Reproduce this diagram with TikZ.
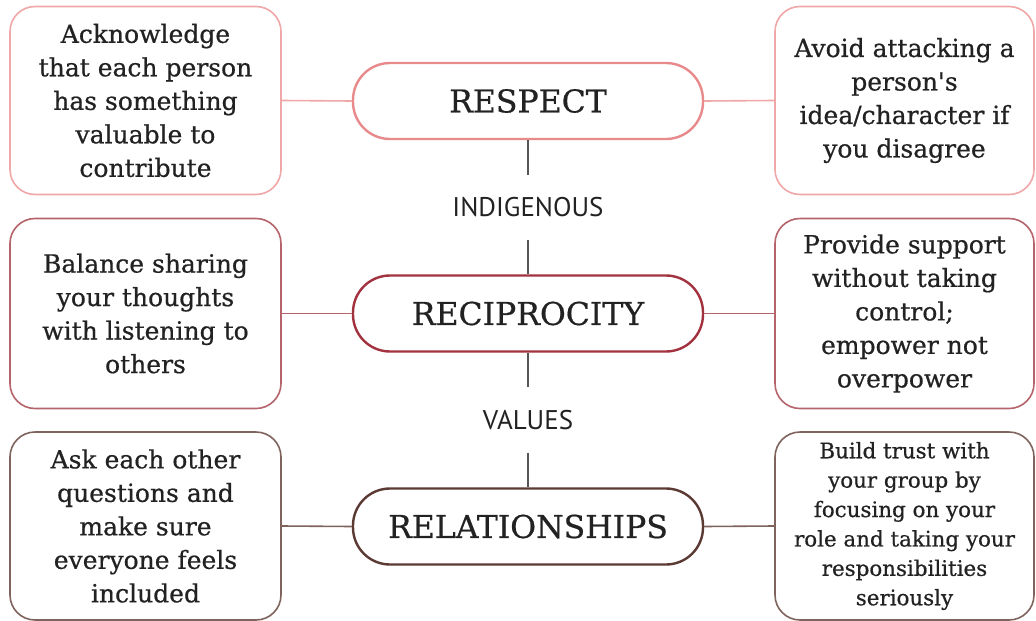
\documentclass[tikz,border=0pt]{standalone}
\usepackage{fontspec}
\setmainfont{DejaVu Serif}[FakeBold=0.6]
\newfontfamily\apfont{DejaVu Serif}[FakeBold=0.6]
\newfontfamily\labelfont{PT Sans}
\begin{document}
\begin{tikzpicture}[x=1pt,y=-1pt,
  txt/.style={text=textgray, align=center, font=\fontsize{25}{33.5}\selectfont},
  smalltxt/.style={text=textgray, align=center, font=\fontsize{21.4}{29.4}\selectfont},
  card/.style={draw, line width=1.6pt, rounded corners=25pt, minimum width=271pt, minimum height=188pt, inner sep=0pt, fill=white},
  rcard/.style={card, minimum width=259pt},
  pill/.style={draw, line width=2.4pt, rounded corners=37pt, minimum width=350pt, minimum height=76pt, inner sep=0pt, fill=white, text=textgray, font=\fontsize{31.5}{31.5}\selectfont},
  tag/.style={text=textgray, font=\labelfont\fontsize{27}{27}\selectfont, minimum height=65pt, inner sep=0pt},
  link/.style={line width=1.6pt},
  stem/.style={line width=1.6pt, draw=stemgray}
]
\definecolor{textgray}{HTML}{222222}
\definecolor{stemgray}{HTML}{555555}
\definecolor{rowA}{HTML}{E88A8C}
\definecolor{rowAlight}{HTML}{F0A7A8}
\definecolor{rowB}{HTML}{A3323F}
\definecolor{rowBlight}{HTML}{B5646C}
\definecolor{rowC}{HTML}{5B3A34}
\definecolor{rowClight}{HTML}{7F645E}

\fill[white] (0,0) rectangle (1036,621);
\useasboundingbox (0,0) rectangle (1036,621);

% central column
\node[pill, draw=rowA] (respect) at (528,101) {RESPECT};
\node[pill, draw=rowB] (recip) at (528,313.5) {RECIPROCITY};
\node[pill, draw=rowC] (relat) at (528,526.5) {RELATIONSHIPS};

\node[tag] (indig) at (528,207.5) {INDIGENOUS};
\node[tag] (values) at (528,420) {VALUES};

\draw[stem] (respect.south) -- (indig.north);
\draw[stem] (indig.south) -- (recip.north);
\draw[stem] (recip.south) -- (values.north);
\draw[stem] (values.south) -- (relat.north);

% left cards
\node[card, draw=rowAlight, txt] (l1) at (145.5,100.5)
  {Acknowledge\\that each person\\has something\\valuable to\\contribute};
\node[card, draw=rowBlight, txt, minimum height=190pt] (l2) at (145.5,313.5)
  {Balance sharing\\your thoughts\\with listening to\\others};
\node[card, draw=rowClight, txt] (l3) at (145.5,526)
  {Ask each other\\questions and\\make sure\\everyone feels\\included};

% right cards
\node[rcard, draw=rowAlight, txt] (r1) at (904.5,100.5)
  {Avoid attacking a\\person{\apfont'}s\\idea/character if\\you disagree};
\node[rcard, draw=rowBlight, txt, minimum height=190pt] (r2) at (904.5,313.5)
  {Provide support\\without taking\\control;\\empower not\\overpower};
\node[rcard, draw=rowClight, smalltxt] (r3) at (904.5,526)
  {Build trust with\\your group by\\focusing on your\\role and taking your\\responsibilities\\seriously};

% horizontal links
\draw[link, draw=rowAlight] (l1.east) -- (respect.west);
\draw[link, draw=rowAlight] (respect.east) -- (r1.west);
\draw[link, draw=rowBlight] (l2.east) -- (recip.west);
\draw[link, draw=rowBlight] (recip.east) -- (r2.west);
\draw[link, draw=rowClight] (l3.east) -- (relat.west);
\draw[link, draw=rowClight] (relat.east) -- (r3.west);
\end{tikzpicture}
\end{document}
